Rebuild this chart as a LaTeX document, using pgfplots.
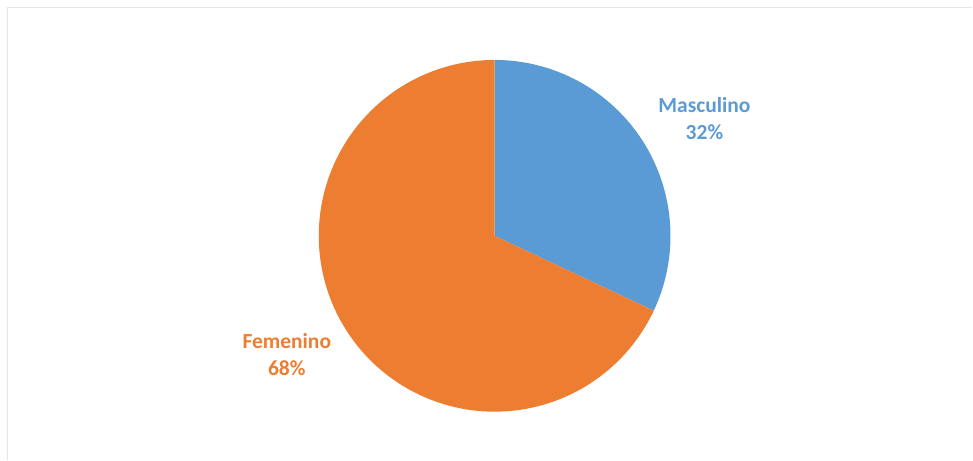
\documentclass[border=0pt]{standalone}
\usepackage{pgfplots}
\usepackage{pgfplotstable}
\pgfplotsset{compat=1.18}
\usepackage{fontspec}
\setmainfont{Carlito}
\definecolor{pieblue}{HTML}{5B9BD5}
\definecolor{pieorange}{HTML}{ED7D31}
\pgfplotstableread{
label value
Masculino 32
Femenino 68
}\piedata
\pgfplotstablegetelem{0}{value}\of\piedata \let\vmasc\pgfplotsretval
\pgfplotstablegetelem{1}{value}\of\piedata \let\vfem\pgfplotsretval
\pgfmathsetmacro{\splitang}{90-3.6*\vmasc}
\pgfmathsetmacro{\endang}{\splitang+360}
\begin{document}
\begin{tikzpicture}
\begin{axis}[
  x=1bp, y=1bp,
  xmin=0, xmax=973, ymin=0, ymax=460,
  hide axis, clip=false,
  axis line style={draw=none},
]
\path (axis cs:0,0) rectangle (axis cs:973,460);
\draw[black!10, line width=1.5bp] (axis cs:7.5,0) -- (axis cs:7.5,452.5) -- (axis cs:973,452.5);
% slices
\addplot[fill=pieblue, draw=none, domain=\splitang:90, samples=150, variable=\t]
  ({495+176*cos(t)}, {224+176*sin(t)}) -- (axis cs:495,224) -- cycle;
\addplot[fill=pieorange, draw=none, domain=90:\endang, samples=250, variable=\t]
  ({495+176*cos(t)}, {224+176*sin(t)}) -- (axis cs:495,224) -- cycle;
% labels
\node[text=pieblue, font=\fontsize{21.5bp}{27bp}\selectfont\bfseries, align=center]
  at (axis cs:705,341) {Masculino\\\vmasc\%};
\node[text=pieorange, font=\fontsize{21.5bp}{27bp}\selectfont\bfseries, align=center]
  at (axis cs:287,105) {Femenino\\\vfem\%};
\end{axis}
\end{tikzpicture}
\end{document}
